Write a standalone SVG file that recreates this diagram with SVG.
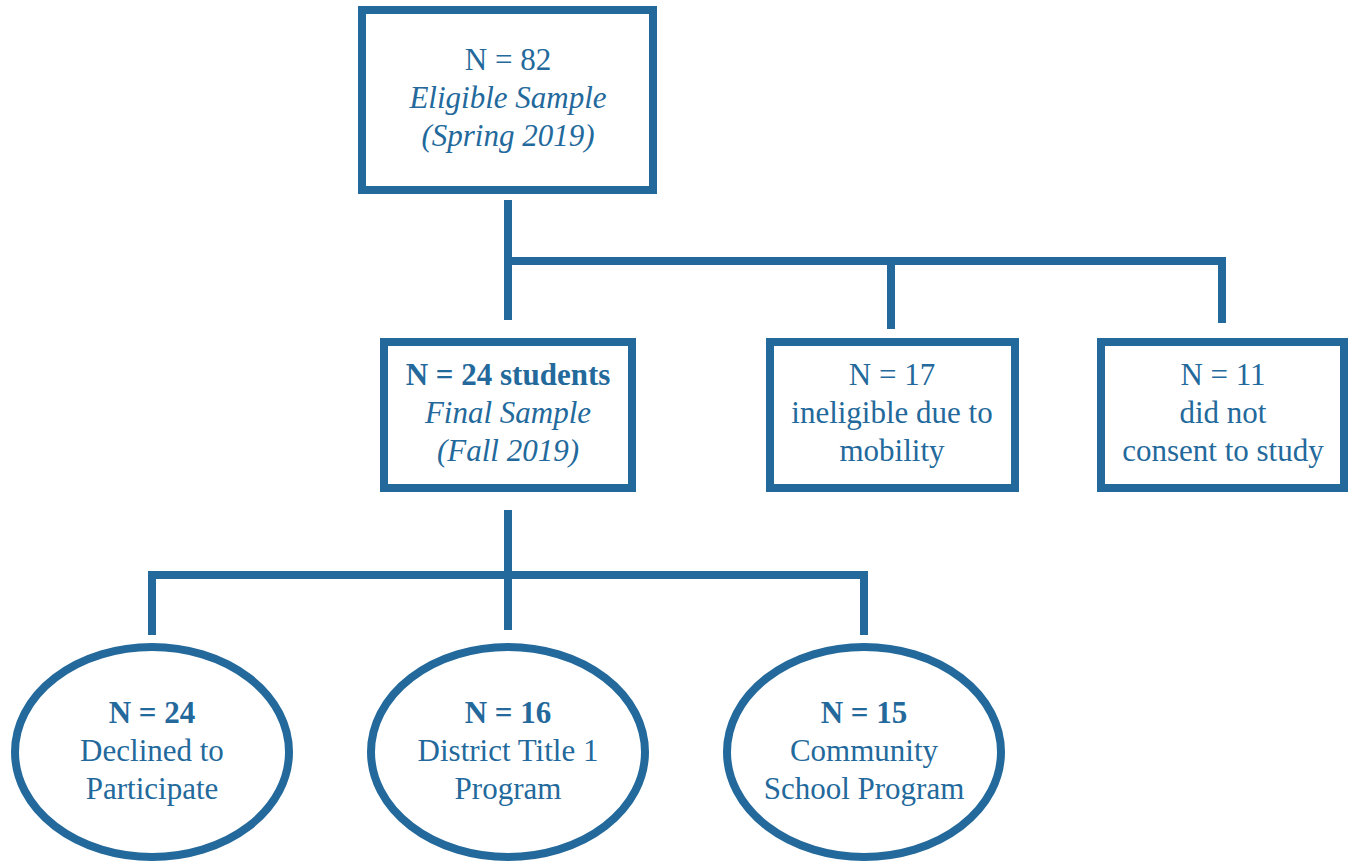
<svg xmlns="http://www.w3.org/2000/svg" width="1349" height="863" viewBox="0 0 1349 863">
<style>
.box{fill:#fff;stroke:#23699b;stroke-width:8}
.ln{fill:none;stroke:#23699b;stroke-width:8;stroke-linejoin:miter}
text{font-family:"Liberation Serif","DejaVu Serif",serif;font-size:31px;fill:#23699b;text-anchor:middle}
.i{font-style:italic}
.b{font-weight:bold}
</style>
<rect width="1349" height="863" fill="#fff"/>
<g id="connectors">
<path class="ln" d="M508 200V320M1222 323V261H508M891 261V329"/>
<path class="ln" d="M508 510V630M152 635V575H864V635"/>
</g>
<g id="n82">
<rect class="box" x="362" y="10" width="291" height="180"/>
<text x="508" y="70">N = 82</text>
<text class="i" x="508" y="108">Eligible Sample</text>
<text class="i" x="508" y="146">(Spring 2019)</text>
</g>
<g id="final">
<rect class="box" x="384" y="342" width="248" height="146"/>
<text class="b" x="508" y="385">N = 24 students</text>
<text class="i" x="508" y="423">Final Sample</text>
<text class="i" x="508" y="461">(Fall 2019)</text>
</g>
<g id="mobility">
<rect class="box" x="770" y="342" width="245" height="146"/>
<text x="892" y="385">N = 17</text>
<text x="892" y="423">ineligible due to</text>
<text x="892" y="461">mobility</text>
</g>
<g id="consent">
<rect class="box" x="1101" y="342" width="243" height="146"/>
<text x="1223" y="385">N = 11</text>
<text x="1223" y="423">did not</text>
<text x="1223" y="461">consent to study</text>
</g>
<g id="declined">
<ellipse class="box" cx="152" cy="752" rx="137" ry="105"/>
<text class="b" x="152" y="723">N = 24</text>
<text x="152" y="761">Declined to</text>
<text x="152" y="799">Participate</text>
</g>
<g id="title1">
<ellipse class="box" cx="508" cy="752" rx="137" ry="105"/>
<text class="b" x="508" y="723">N = 16</text>
<text x="508" y="761">District Title 1</text>
<text x="508" y="799">Program</text>
</g>
<g id="community">
<ellipse class="box" cx="864" cy="752" rx="137" ry="105"/>
<text class="b" x="864" y="723">N = 15</text>
<text x="864" y="761">Community</text>
<text x="864" y="799">School Program</text>
</g>
</svg>
